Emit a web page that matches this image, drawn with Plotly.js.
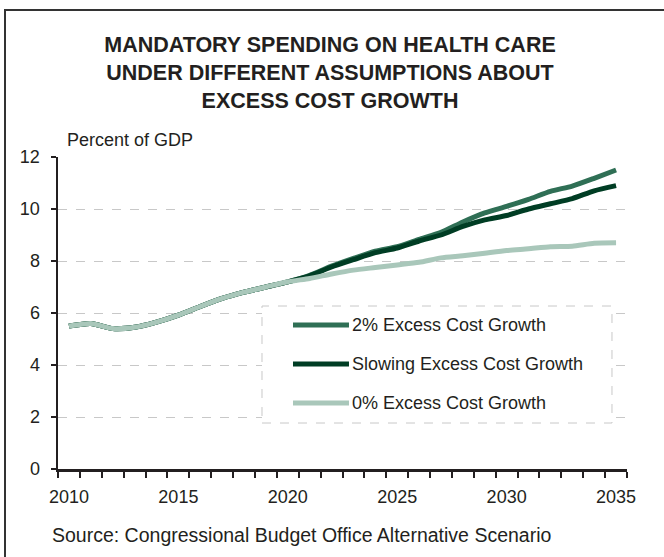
<!DOCTYPE html>
<html>
<head>
<meta charset="utf-8">
<script src="https://cdn.plot.ly/plotly-3.0.1.min.js"></script>
<style>
  html, body { margin: 0; padding: 0; background: #fff; overflow: hidden; }
  #wrap { position: relative; width: 664px; height: 557px; }
  #chart { width: 664px; height: 557px; }
  #frame { position: absolute; left: 4px; top: 9px; width: 800px; height: 700px;
           border-left: 2px solid #333; border-top: 2px solid #333; pointer-events: none; }
</style>
</head>
<body>
<div id="wrap"><div id="chart"></div><div id="frame"></div></div>
<script>
const years = [2010,2011,2012,2013,2014,2015,2016,2017,2018,2019,2020,2021,2022,2023,2024,2025,2026,2027,2028,2029,2030,2031,2032,2033,2034,2035];
const growth2 = [5.5,5.6,5.4,5.45,5.65,5.92,6.25,6.56,6.8,7.0,7.2,7.45,7.8,8.1,8.38,8.55,8.83,9.1,9.5,9.85,10.1,10.37,10.68,10.88,11.18,11.5];
const slowing = [5.5,5.6,5.4,5.45,5.65,5.92,6.25,6.56,6.8,7.0,7.2,7.43,7.77,8.05,8.32,8.5,8.77,9.0,9.33,9.58,9.75,10.0,10.2,10.4,10.7,10.9];
const growth0 = [5.5,5.6,5.4,5.45,5.65,5.92,6.25,6.56,6.8,7.0,7.2,7.33,7.5,7.65,7.75,7.85,7.95,8.12,8.2,8.3,8.4,8.47,8.55,8.57,8.68,8.7];
const seriesNames = ["2% Excess Cost Growth","Slowing Excess Cost Growth","0% Excess Cost Growth"];
const xTickLabels = [2010,2015,2020,2025,2030,2035];
const yTickVals = [0,2,4,6,8,10,12];

const colors = ["#2f6f55","#003d24","#a9c7ba"];
const seriesData = [growth2, slowing, growth0];
const font = "Liberation Sans, Arial, sans-serif";
const textColor = "#231f20";

const traces = seriesData.map((ys, i) => ({
  x: years, y: ys, type: "scatter", mode: "lines", name: seriesNames[i],
  line: { color: colors[i], width: 5, shape: "spline", smoothing: 0.6 },
  showlegend: false, hoverinfo: "skip"
}));

// manual legend (long line samples like the original)
const legY = [0.4615, 0.3365, 0.2115];
const shapes = [
  { type: "rect", xref: "paper", yref: "paper", x0: 0.3585, x1: 0.9736, y0: 0.1474, y1: 0.5224,
    line: { color: "#c8c8c8", width: 1, dash: "dash" }, fillcolor: "#ffffff", layer: "above" }
];
const annotations = [
  { text: "Percent of GDP", xref: "paper", yref: "paper", x: 0.0123, y: 1.0545,
    xanchor: "left", yanchor: "middle", showarrow: false, font: { family: font, size: 18, color: textColor } },
  { text: "Source: Congressional Budget Office Alternative Scenario", xref: "paper", yref: "paper",
    x: -0.0141, y: -0.2115, xanchor: "left", yanchor: "middle", showarrow: false,
    font: { family: font, size: 19.5, color: textColor } }
];
seriesNames.forEach((n, i) => {
  shapes.push({ type: "line", xref: "paper", yref: "paper", x0: 0.413, x1: 0.5114, y0: legY[i], y1: legY[i],
    line: { color: colors[i], width: 5 }, layer: "above" });
  annotations.push({ text: n, xref: "paper", yref: "paper", x: 0.5132, y: legY[i],
    xanchor: "left", yanchor: "middle", showarrow: false, font: { family: font, size: 18, color: textColor } });
});

const layout = {
  width: 664, height: 557,
  margin: { l: 58, r: 37, t: 157, b: 88 },
  paper_bgcolor: "#ffffff", plot_bgcolor: "#ffffff",
  font: { family: font, size: 18, color: textColor },
  title: {
    text: "<b>MANDATORY SPENDING ON HEALTH CARE<br>UNDER DIFFERENT ASSUMPTIONS ABOUT<br>EXCESS COST GROWTH</b>",
    font: { family: font, size: 21.5, color: textColor },
    x: 0.497, xanchor: "center", xref: "container",
    y: 1 - 52/557, yanchor: "top", yref: "container"
  },
  xaxis: {
    range: [2009.5, 2035.5], tickvals: xTickLabels, ticktext: xTickLabels.map(String),
    ticks: "", showgrid: false, zeroline: false,
    showline: true, linecolor: textColor, linewidth: 2.5,
    ticklabelstandoff: 10,
    minor: { ticks: "outside", tick0: 2009.5, dtick: 1, ticklen: 6, tickwidth: 2, tickcolor: textColor, showgrid: false },
    tickfont: { family: font, size: 18, color: textColor }, fixedrange: true
  },
  yaxis: {
    range: [0, 12], tickvals: yTickVals, ticks: "outside", ticklen: 5, tickwidth: 2, tickcolor: textColor,
    showline: true, linecolor: textColor, linewidth: 2.5, zeroline: false,
    showgrid: true, gridcolor: "#c8c8c8", gridwidth: 1, griddash: "dash",
    ticklabelstandoff: 7,
    tickfont: { family: font, size: 18, color: textColor }, fixedrange: true
  },
  shapes: shapes,
  annotations: annotations
};

Plotly.newPlot("chart", traces, layout, { staticPlot: true, displayModeBar: false });
</script>
</body>
</html>
